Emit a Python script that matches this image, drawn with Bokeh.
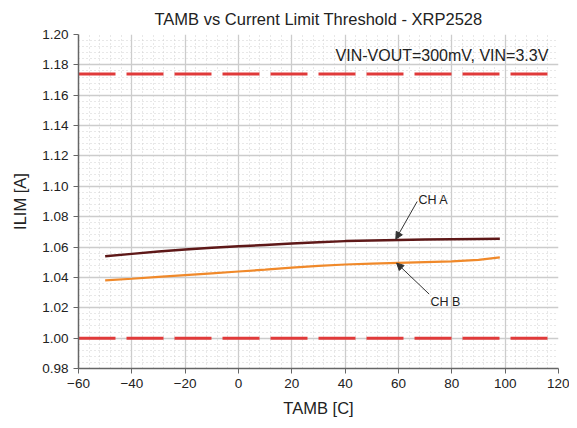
from bokeh.plotting import figure
from bokeh.models import Range1d, Arrow, NormalHead, Label, FixedTicker, CustomJSTickFormatter
from bokeh.embed import file_html
from bokeh.resources import INLINE

temp = [-50, -40, -30, -20, -10, 0, 10, 20, 30, 40, 50, 60, 70, 80, 90, 98]
ch_a = [1.0540, 1.0555, 1.0570, 1.0584, 1.0595, 1.0605, 1.0614, 1.0623, 1.0632, 1.0639,
        1.0643, 1.0646, 1.0649, 1.0651, 1.0653, 1.0654]
ch_b = [1.0380, 1.0391, 1.0403, 1.0415, 1.0427, 1.0439, 1.0451, 1.0464, 1.0476, 1.0485,
        1.0491, 1.0496, 1.0501, 1.0506, 1.0515, 1.0532]
limit_hi = 1.174
limit_lo = 1.000
limit_x = [-60, 116]
x_ticks = [-60, -40, -20, 0, 20, 40, 60, 80, 100, 120]
y_ticks = [0.98, 1.00, 1.02, 1.04, 1.06, 1.08, 1.10, 1.12, 1.14, 1.16, 1.18, 1.20]

FONT = "Liberation Sans"
TXT = "#222222"

p = figure(width=569, height=420, output_backend="svg", toolbar_location=None,
           x_range=Range1d(-60, 120), y_range=Range1d(0.98, 1.20),
           min_border_left=78, min_border_right=11, min_border_top=34, min_border_bottom=52,
           title="TAMB vs Current Limit Threshold - XRP2528")
p.title.align = "center"
p.title.text_font = FONT
p.title.text_font_size = "16.5px"
p.title.text_font_style = "normal"
p.title.text_color = TXT
p.title.standoff = 14
p.outline_line_color = None
p.background_fill_color = "white"

p.xaxis.ticker = FixedTicker(ticks=x_ticks, minor_ticks=list(range(-60, 121, 4)))
p.yaxis.ticker = FixedTicker(ticks=y_ticks, minor_ticks=[round(0.98 + i * 0.004, 3) for i in range(56)])
p.yaxis.formatter = CustomJSTickFormatter(code="return tick.toFixed(2);")

for ax in (p.xaxis, p.yaxis):
    ax.axis_line_color = "#666666"
    ax.axis_line_width = 1.5
    ax.major_tick_line_color = "#666666"
    ax.major_tick_out = 5
    ax.major_tick_in = 0
    ax.minor_tick_line_color = None
    ax.major_label_text_font = FONT
    ax.major_label_text_font_size = "13.5px"
    ax.major_label_text_color = TXT
    ax.axis_label_text_font = FONT
    ax.axis_label_text_font_size = "16.5px"
    ax.axis_label_text_font_style = "normal"
    ax.axis_label_text_color = TXT
p.xaxis.axis_label = "TAMB [C]"
p.yaxis.axis_label = "ILIM [A]"
p.xaxis.axis_label_standoff = 8
p.yaxis.axis_label_standoff = 10

for g in (p.xgrid, p.ygrid):
    g.grid_line_color = "#cccccc"
    g.grid_line_width = 1.3
    g.minor_grid_line_color = "#d0d0d0"
    g.minor_grid_line_dash = "1 3"
    g.minor_grid_line_width = 1

p.line(limit_x, [limit_hi, limit_hi], line_color="#e03a3a", line_width=3, line_dash="37 11")
p.line(limit_x, [limit_lo, limit_lo], line_color="#e03a3a", line_width=3, line_dash="37 11")

p.line(temp, ch_b, line_color="#f0892a", line_width=2.2)
p.line(temp, ch_a, line_color="#5e1818", line_width=2.5)

p.add_layout(Arrow(end=NormalHead(size=7, fill_color="#333333", line_color="#333333", line_width=1),
                   x_start=67, y_start=1.090, x_end=59, y_end=1.0652,
                   line_color="#333333", line_width=1))
p.add_layout(Arrow(end=NormalHead(size=7, fill_color="#333333", line_color="#333333", line_width=1),
                   x_start=71.5, y_start=1.029, x_end=59.3, y_end=1.0494,
                   line_color="#333333", line_width=1))

p.add_layout(Label(x=67.5, y=1.091, text="CH A", text_font=FONT, text_font_size="12.5px",
                   text_color=TXT, text_baseline="middle", text_align="left"))
p.add_layout(Label(x=72, y=1.024, text="CH B", text_font=FONT, text_font_size="12.5px",
                   text_color=TXT, text_baseline="middle", text_align="left"))
p.add_layout(Label(x=116.2, y=1.186, text="VIN-VOUT=300mV, VIN=3.3V", text_font=FONT,
                   text_font_size="16px", text_color=TXT, text_baseline="middle", text_align="right"))

open("out.html", "w").write(file_html(p, INLINE))
